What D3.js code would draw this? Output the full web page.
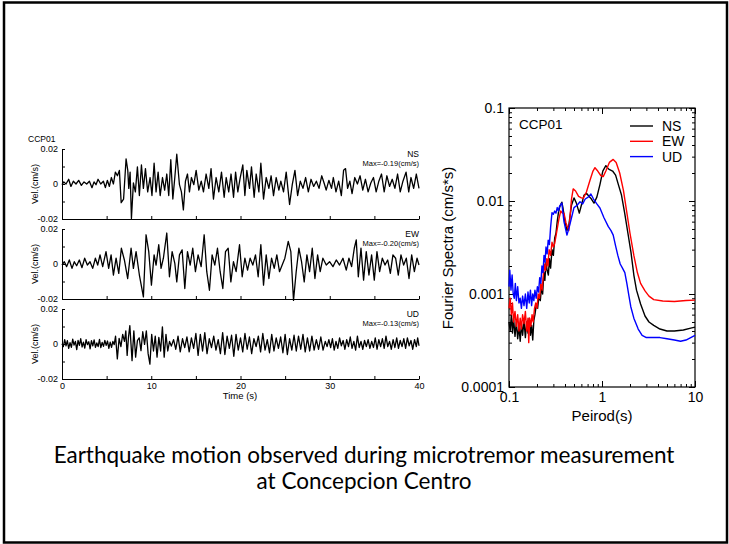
<!DOCTYPE html>
<html>
<head>
<meta charset="utf-8">
<script src="https://cdn.jsdelivr.net/npm/d3@7"></script>
<style>
  body { margin: 0; background: #fff; }
  svg text { font-family: "Liberation Sans", Arial, sans-serif; }
</style>
</head>
<body>
<svg id="chart" width="729" height="544"></svg>
<script>
// ---- data ----
var components = ['NS', 'EW', 'UD'];
var maxLabels = ['Max=-0.19(cm/s)', 'Max=-0.20(cm/s)', 'Max=-0.13(cm/s)'];
var timeTicks = [0, 5, 10, 15, 20, 25, 30, 35, 40];
var timeLabels = [0, 10, 20, 30, 40];
var velTicks = [-0.02, -0.01, 0, 0.01, 0.02];
var velLabels = [-0.02, 0, 0.02];
var periodLabels = [0.1, 1, 10];
var specLabels = [0.0001, 0.001, 0.01, 0.1];

// velocity waveforms, [time (s), vel (cm/s)] at turning points
var nsWave = [[0,-0.0004],[0.2,0.0012],[0.45,0],[0.75,0.0027],[1.0,-0.0014],[1.27,0.0016],[1.57,0],[1.87,0.0021],[2.17,-0.0008],[2.47,0.0012],[2.77,0],[3.07,0.0016],[3.36,-0.0021],[3.59,0.0012],[3.81,-0.0004],[4.04,0.0027],[4.34,0],[4.64,0.0016],[4.86,-0.0021],[5.08,0.0021],[5.31,-0.0014],[5.53,0.0037],[5.76,0],[5.98,0.0068],[6.21,0.0047],[6.43,0.0078],[6.63,-0.0107],[6.9,-0.0086],[7.18,0.0144],[7.37,0.0078],[7.48,-0.0025],[7.63,0.0068],[7.78,-0.0197],[8.0,0.0006],[8.22,-0.0045],[8.45,0.0098],[8.67,-0.0066],[8.9,0.0109],[9.12,-0.0025],[9.35,0.0088],[9.6,-0.0045],[9.87,0.0037],[10.08,-0.0066],[10.32,0.0119],[10.54,-0.0045],[10.77,0.0068],[11.0,-0.0066],[11.26,0.0037],[11.5,-0.0035],[11.74,0.0057],[11.96,-0.0066],[12.19,0.0139],[12.42,-0.0086],[12.64,0.0037],[12.86,0.017],[13.16,-0.0004],[13.38,-0.0045],[13.6,-0.0148],[13.83,0.0016],[14.06,0.0057],[14.28,-0.0045],[14.5,0.0037],[14.77,-0.0004],[15.03,0.0078],[15.33,-0.0035],[15.6,0.0016],[15.85,-0.0045],[16.15,0.0057],[16.45,-0.0025],[16.7,0.0088],[16.97,-0.0086],[17.27,0.0037],[17.57,-0.0045],[17.87,0.0068],[18.17,-0.0076],[18.4,0.0037],[18.68,-0.0045],[18.94,0.0057],[19.22,-0.0076],[19.45,0.0068],[19.7,-0.0045],[19.97,0.0037],[20.26,0.0109],[20.49,-0.0066],[20.71,0.0078],[21.01,-0.0025],[21.23,0.0098],[21.53,-0.0076],[21.76,0.0057],[22.06,-0.0045],[22.28,0.0119],[22.58,-0.0086],[22.88,0.0037],[23.18,-0.0025],[23.43,0.0047],[23.7,-0.0066],[24.0,0.0037],[24.3,-0.0035],[24.52,0.0016],[24.82,-0.0045],[25.12,0.0068],[25.5,-0.0117],[25.8,-0.0004],[26.1,0.0078],[26.4,-0.0066],[26.7,0.0016],[27.0,-0.0025],[27.3,0.0037],[27.6,-0.0045],[27.9,0.0027],[28.2,-0.0014],[28.5,0.0016],[28.8,-0.0025],[29.1,0.0047],[29.4,0],[29.6,-0.0035],[29.9,0.0021],[30.2,-0.0025],[30.4,0.0037],[30.7,-0.0045],[31.0,0.0016],[31.3,-0.0066],[31.55,0.0078],[31.77,0.0088],[32.0,-0.0025],[32.25,0.0016],[32.5,-0.0055],[32.8,0.0037],[33.1,0],[33.4,0.0047],[33.7,-0.0035],[34.0,0.0027],[34.3,-0.0045],[34.6,0.0006],[34.9,0.0037],[35.2,-0.0045],[35.5,0.0016],[35.8,0.0057],[36.1,-0.0045],[36.4,0.0047],[36.7,-0.0014],[37.0,0.0027],[37.3,-0.0025],[37.6,0.0057],[37.9,-0.0045],[38.2,0.0016],[38.55,0.0068],[38.85,-0.0045],[39.1,0.0037],[39.4,-0.0025],[39.7,0.0057],[40,-0.0025]];
var ewWave = [[0,-0.0006],[0.26,0.0013],[0.52,-0.0015],[0.82,0.0023],[1.12,-0.0025],[1.38,0.0013],[1.64,-0.001],[1.94,0.0023],[2.24,-0.0021],[2.54,0.0033],[2.84,-0.0006],[3.14,0.0013],[3.44,-0.0025],[3.74,0.0033],[4.0,-0.0006],[4.26,0.0052],[4.56,-0.0015],[4.93,0.0071],[5.23,-0.0025],[5.5,0.0052],[5.76,-0.0063],[6.06,0.0033],[6.36,-0.0054],[6.65,0.009],[6.99,0.0023],[7.36,-0.0083],[7.74,0.009],[8.0,-0.0025],[8.3,0.0071],[8.67,-0.0063],[9.12,-0.0188],[9.42,0.0167],[9.72,0.0071],[10.02,-0.0121],[10.32,0.0052],[10.54,-0.0006],[10.84,0.011],[11.1,-0.0025],[11.36,0.0033],[11.74,0.0177],[12.04,-0.0073],[12.34,0.0071],[12.64,0.0004],[12.86,-0.0102],[13.16,0.0052],[13.46,0.0081],[13.76,-0.014],[14.06,0.0071],[14.36,-0.0006],[14.65,0.009],[14.95,-0.0044],[15.25,0.0052],[15.59,-0.0015],[15.93,0.0167],[16.22,-0.0044],[16.52,-0.015],[16.82,0.0052],[17.12,-0.0006],[17.42,0.009],[17.72,-0.0044],[18.02,-0.014],[18.32,0.0071],[18.62,0.009],[18.92,-0.0102],[19.21,0.0013],[19.51,-0.0044],[19.89,0.011],[20.19,-0.0073],[20.49,0.0033],[20.79,-0.0035],[21.08,0.0033],[21.38,-0.0006],[21.68,0.0052],[21.98,-0.0073],[22.28,0.011],[22.58,-0.0121],[22.88,0.0052],[23.18,-0.0083],[23.48,0.0033],[23.78,-0.0025],[24.07,0.0052],[24.37,-0.0044],[24.67,-0.0006],[24.97,0.0033],[25.35,0.0129],[25.64,0.0071],[25.94,-0.0208],[26.24,-0.0044],[26.54,0.009],[26.84,0.0013],[27.14,-0.0102],[27.44,0.0052],[27.74,-0.0044],[28.04,0.009],[28.34,-0.0083],[28.64,0.0052],[28.93,-0.0044],[29.23,0.0033],[29.61,-0.0006],[29.98,0.0013],[30.36,-0.0015],[30.73,0.0023],[31.1,-0.0006],[31.48,0.0033],[31.85,-0.0035],[32.15,0.0033],[32.45,-0.0015],[32.75,0.009],[32.97,0.0138],[33.2,-0.0073],[33.5,0.009],[33.79,-0.0092],[34.09,0.0071],[34.39,-0.0063],[34.69,0.0052],[34.99,-0.0092],[35.29,0.0071],[35.59,-0.0044],[35.89,0.0033],[36.19,-0.0006],[36.49,0.0023],[36.79,-0.0054],[37.08,0.0052],[37.38,0.0033],[37.68,-0.0063],[37.98,0.0052],[38.28,-0.0006],[38.58,0.0033],[38.88,-0.0083],[39.18,0.0052],[39.48,-0.0044],[39.78,0.0033],[40,-0.0006]];
var udWave = [[0,0.0002],[0.15,-0.0015],[0.3,0.0025],[0.45,-0.001],[0.6,0.0019],[0.75,-0.0025],[0.9,0.0008],[1.05,-0.0019],[1.2,0.0028],[1.35,-0.0006],[1.5,0.0015],[1.65,-0.0032],[1.8,0.0021],[1.95,-0.0008],[2.1,0.003],[2.25,-0.0017],[2.4,0.0011],[2.55,-0.0023],[2.7,0.0025],[2.85,-0.0004],[3.0,0.0013],[3.15,-0.0028],[3.3,0.0019],[3.45,-0.0011],[3.6,0.0023],[3.75,-0.0019],[3.9,0.0006],[4.05,-0.0015],[4.2,0.0026],[4.35,-0.0021],[4.5,0.0009],[4.65,-0.0013],[4.8,0.0021],[4.95,-0.0008],[5.1,0.0017],[5.25,-0.0025],[5.4,0.0011],[5.55,-0.0019],[5.7,0.0015],[5.85,-0.0004],[6.0,0.0045],[6.2,-0.0085],[6.4,0.0032],[6.6,-0.0015],[6.8,0.0055],[7.0,0.0015],[7.15,0.0075],[7.3,-0.0065],[7.45,0.004],[7.6,0.0105],[7.85,-0.0095],[8.05,0.0075],[8.25,-0.0075],[8.45,0.002],[8.65,0.0035],[8.85,-0.0038],[9.05,0.007],[9.25,-0.0002],[9.45,0.0075],[9.65,-0.0055],[9.85,-0.0115],[10.05,0.0055],[10.25,-0.004],[10.45,0.0045],[10.65,-0.0075],[10.85,0.0038],[11.05,-0.004],[11.25,0.0098],[11.45,-0.0075],[11.65,0.0055],[11.85,-0.004],[12.05,0.0015],[12.25,-0.0012],[12.5,0.0025],[12.75,-0.003],[13.0,0.0045],[13.25,-0.0045],[13.5,0.003],[13.75,-0.002],[14.0,0.004],[14.25,-0.0045],[14.5,0.0035],[14.75,-0.0025],[15.0,0.006],[15.25,-0.0065],[15.5,0.0055],[15.75,-0.004],[16.0,0.0065],[16.25,-0.0055],[16.5,0.003],[16.75,-0.002],[17.0,0.0045],[17.25,-0.0035],[17.5,0.0025],[17.75,-0.0055],[18.0,0.0065],[18.25,-0.006],[18.5,0.0045],[18.75,-0.0025],[19.0,0.005],[19.25,-0.007],[19.5,0.0055],[19.75,-0.0035],[20.0,0.0035],[20.25,-0.0045],[20.5,0.006],[20.75,-0.003],[21.0,0.004],[21.25,-0.0055],[21.5,0.003],[21.75,-0.0015],[22.0,0.0045],[22.25,-0.0045],[22.5,0.006],[22.75,-0.0035],[23.0,0.0025],[23.25,-0.005],[23.5,0.0055],[23.75,-0.004],[24.0,0.0035],[24.25,-0.0025],[24.5,0.004],[24.75,-0.005],[25.0,0.0055],[25.25,-0.006],[25.5,0.003],[25.75,-0.0035],[26.0,0.005],[26.25,-0.004],[26.5,0.0045],[26.75,-0.003],[27.0,0.0055],[27.25,-0.0045],[27.5,0.0035],[27.75,-0.004],[28.0,0.0045],[28.25,-0.0035],[28.5,0.0025],[28.75,-0.003],[29.0,0.004],[29.25,-0.0035],[29.5,0.0015],[29.7,-0.0015],[29.9,0.0025],[30.1,-0.002],[30.3,0.003],[30.5,-0.0035],[30.7,0.0015],[30.9,-0.0025],[31.1,0.0035],[31.3,-0.001],[31.5,0.002],[31.7,-0.003],[31.9,0.0025],[32.1,-0.0015],[32.3,0.004],[32.5,-0.0025],[32.7,0.0015],[32.9,-0.0035],[33.1,0.0045],[33.3,-0.002],[33.5,0.0015],[33.7,-0.003],[33.9,0.002],[34.1,-0.0015],[34.3,0.0025],[34.5,-0.0025],[34.7,0.0015],[34.9,-0.002],[35.1,0.0035],[35.3,-0.003],[35.5,0.0025],[35.7,-0.0015],[35.9,0.003],[36.1,-0.0025],[36.3,0.0045],[36.5,-0.0015],[36.7,0.0015],[36.9,-0.003],[37.1,0.0025],[37.3,-0.002],[37.5,0.0035],[37.7,-0.0025],[37.9,0.002],[38.1,-0.0015],[38.3,0.003],[38.5,-0.0025],[38.7,0.0035],[38.9,-0.001],[39.1,0.002],[39.3,-0.003],[39.5,0.0025],[39.7,-0.0015],[39.85,0.0035],[40,-0.001]];

// Fourier spectra, [period (s), amplitude (cm/s*s)]
var nsSpec = [[0.1,0.0005],[0.103,0.0004],[0.106,0.0006],[0.109,0.00038],[0.112,0.00055],[0.116,0.00035],[0.12,0.0005],[0.124,0.00033],[0.128,0.00045],[0.132,0.00031],[0.136,0.00048],[0.14,0.00036],[0.145,0.00052],[0.15,0.00034],[0.155,0.0005],[0.16,0.00038],[0.165,0.00055],[0.17,0.00036],[0.175,0.00046],[0.18,0.00032],[0.185,0.00052],[0.19,0.0006],[0.197,0.00078],[0.203,0.0007],[0.21,0.00095],[0.217,0.00085],[0.224,0.0012],[0.23,0.001],[0.237,0.0017],[0.243,0.0014],[0.25,0.0022],[0.257,0.0018],[0.265,0.0016],[0.272,0.0024],[0.28,0.0019],[0.29,0.003],[0.3,0.0026],[0.31,0.004],[0.32,0.0045],[0.33,0.006],[0.34,0.0075],[0.35,0.0085],[0.36,0.0092],[0.37,0.0097],[0.38,0.0085],[0.4,0.006],[0.42,0.0048],[0.44,0.0055],[0.47,0.009],[0.5,0.0108],[0.53,0.0095],[0.57,0.0074],[0.6,0.009],[0.64,0.0115],[0.68,0.0121],[0.72,0.0113],[0.77,0.0105],[0.82,0.0095],[0.88,0.011],[0.95,0.015],[1.02,0.021],[1.1,0.024],[1.18,0.022],[1.3,0.021],[1.4,0.019],[1.5,0.015],[1.62,0.0116],[1.75,0.0075],[1.9,0.0045],[2.05,0.0028],[2.2,0.0016],[2.35,0.0011],[2.6,0.00078],[2.9,0.00058],[3.2,0.0005],[3.6,0.00046],[4.2,0.00042],[5,0.0004],[6,0.0004],[7.5,0.00041],[9,0.00043],[10,0.00044]];
var ewSpec = [[0.1,0.0007],[0.103,0.0009],[0.106,0.0006],[0.109,0.0008],[0.112,0.0005],[0.116,0.00065],[0.12,0.00045],[0.124,0.0006],[0.128,0.0004],[0.132,0.00055],[0.136,0.00042],[0.14,0.0006],[0.145,0.00048],[0.15,0.00065],[0.155,0.0004],[0.16,0.00055],[0.163,0.0003],[0.167,0.00055],[0.172,0.00045],[0.177,0.0006],[0.182,0.0005],[0.188,0.0007],[0.194,0.0008],[0.2,0.0007],[0.206,0.001],[0.213,0.0009],[0.22,0.0013],[0.227,0.0011],[0.234,0.0016],[0.24,0.0021],[0.247,0.0018],[0.255,0.0024],[0.262,0.002],[0.27,0.003],[0.28,0.0026],[0.29,0.0036],[0.3,0.0032],[0.31,0.0035],[0.32,0.0042],[0.33,0.005],[0.345,0.0065],[0.36,0.0078],[0.375,0.0074],[0.39,0.0074],[0.41,0.0058],[0.44,0.0048],[0.47,0.0105],[0.49,0.0135],[0.52,0.0128],[0.56,0.0112],[0.6,0.0108],[0.63,0.0107],[0.68,0.0125],[0.74,0.0165],[0.8,0.021],[0.84,0.0228],[0.9,0.021],[0.97,0.0188],[1.03,0.0183],[1.1,0.021],[1.2,0.026],[1.32,0.028],[1.42,0.026],[1.55,0.02],[1.7,0.013],[1.85,0.0075],[2.0,0.0045],[2.2,0.0026],[2.4,0.0017],[2.6,0.0013],[2.9,0.00108],[3.2,0.00095],[3.6,0.00087],[4.5,0.00084],[6,0.00083],[8,0.00085],[10,0.00086]];
var udSpec = [[0.1,0.0012],[0.102,0.0018],[0.105,0.0011],[0.108,0.0016],[0.111,0.001],[0.114,0.0009],[0.117,0.0013],[0.12,0.00085],[0.124,0.0012],[0.128,0.0008],[0.132,0.0009],[0.136,0.0007],[0.14,0.00095],[0.145,0.00075],[0.15,0.001],[0.155,0.0007],[0.16,0.00105],[0.165,0.0008],[0.17,0.0011],[0.175,0.00075],[0.18,0.001],[0.185,0.00085],[0.19,0.0011],[0.196,0.0009],[0.202,0.0012],[0.208,0.00105],[0.214,0.0015],[0.22,0.0013],[0.226,0.002],[0.232,0.0017],[0.238,0.0026],[0.244,0.0022],[0.25,0.0032],[0.257,0.0027],[0.264,0.0038],[0.272,0.0034],[0.28,0.0052],[0.29,0.0075],[0.3,0.0072],[0.31,0.0078],[0.32,0.0074],[0.33,0.0085],[0.34,0.0078],[0.35,0.0088],[0.37,0.0095],[0.39,0.006],[0.42,0.0043],[0.45,0.0055],[0.47,0.0066],[0.5,0.0085],[0.54,0.009],[0.58,0.0098],[0.62,0.0093],[0.66,0.0105],[0.71,0.011],[0.76,0.0119],[0.81,0.0105],[0.88,0.0093],[0.95,0.0084],[1.05,0.0066],[1.17,0.0053],[1.25,0.0048],[1.32,0.0043],[1.4,0.0033],[1.48,0.0026],[1.57,0.0021],[1.66,0.0019],[1.76,0.0017],[1.85,0.0013],[1.95,0.00095],[2.04,0.00073],[2.2,0.00055],[2.45,0.00042],[2.7,0.00036],[3.0,0.00034],[3.5,0.00034],[4.2,0.00034],[5,0.00033],[6,0.00032],[7,0.00031],[8,0.00032],[9,0.00034],[10,0.00036]];

var waves = [nsWave, ewWave, udWave];
var spectra = [nsSpec, ewSpec, udSpec];
var specColors = ['#000000', '#ff0000', '#0000ff'];

var svg = d3.select('#chart');

// slide frame
svg.append('rect')
    .attr('x', 4).attr('y', 2.5).attr('width', 723).attr('height', 540)
    .attr('fill', 'none').attr('stroke', '#000').attr('stroke-width', 2.5);

// ---- left: three velocity traces ----
var xt = d3.scaleLinear().domain([0, 40]).range([62, 419]);
var panelTop = 149, panelH = 70, panelStep = 80;

svg.append('text').attr('x', 28).attr('y', 142)
    .attr('font-size', 8.5).text('CCP01');

components.forEach(function (name, i) {
    var top = panelTop + i * panelStep;
    var yv = d3.scaleLinear().domain([-0.02, 0.02]).range([top + panelH, top]);
    var g = svg.append('g');

    g.append('text').attr('x', 419).attr('y', top + 8).attr('text-anchor', 'end')
        .attr('font-size', 8.5).text(name);
    g.append('text').attr('x', 419).attr('y', top + 17).attr('text-anchor', 'end')
        .attr('font-size', 7.5).text(maxLabels[i]);

    g.append('g')
        .attr('transform', 'translate(62,0)')
        .call(d3.axisLeft(yv).tickValues(velTicks).tickSize(-3).tickSizeOuter(0).tickPadding(4)
            .tickFormat(function (d) { return velLabels.indexOf(d) >= 0 ? (d === 0 ? '0' : d.toFixed(2)) : ''; }))
        .call(function (a) { a.selectAll('text').attr('font-size', 9).attr('font-family', 'Liberation Sans'); });

    g.append('g')
        .attr('transform', 'translate(0,' + (top + panelH) + ')')
        .call(d3.axisBottom(xt).tickValues(timeTicks).tickSize(-3).tickSizeOuter(0).tickPadding(4)
            .tickFormat(function (d) { return i === 2 && timeLabels.indexOf(d) >= 0 ? d : ''; }))
        .call(function (a) { a.selectAll('text').attr('font-size', 9).attr('font-family', 'Liberation Sans'); });

    g.append('text')
        .attr('transform', 'translate(38,' + (top + panelH / 2) + ') rotate(-90)')
        .attr('text-anchor', 'middle').attr('font-size', 9).text('Vel.(cm/s)');

    g.append('path')
        .datum(waves[i])
        .attr('fill', 'none').attr('stroke', '#000').attr('stroke-width', 1.3)
        .attr('stroke-linejoin', 'round')
        .attr('d', d3.line().x(function (d) { return xt(d[0]); }).y(function (d) { return yv(d[1]); }));
});

svg.append('text').attr('x', 240).attr('y', 399).attr('text-anchor', 'middle')
    .attr('font-size', 9.5).text('Time (s)');

// ---- right: Fourier spectra ----
var xs = d3.scaleLog().domain([0.1, 10]).range([509, 695]);
var ys = d3.scaleLog().domain([0.0001, 0.1]).range([387, 108]);
var sp = svg.append('g');

sp.append('rect').attr('x', 509).attr('y', 108).attr('width', 186).attr('height', 279)
    .attr('fill', 'none').attr('stroke', '#000').attr('stroke-width', 1.2);

function logAxis(axis, scale, major, labels) {
    return function (a) {
        a.call(axis(scale).tickValues(scale.ticks()).tickSize(-3).tickSizeOuter(0).tickFormat(''));
        a.select('.domain').remove();
        var m = a.append('g').call(axis(scale).tickValues(major).tickSize(-6).tickSizeOuter(0)
            .tickPadding(labels ? 5 : 0).tickFormat(labels ? function (d) { return String(d); } : ''));
        m.select('.domain').remove();
        m.selectAll('text').attr('font-size', 14).attr('font-family', 'Liberation Sans');
    };
}
sp.append('g').attr('transform', 'translate(0,387)').call(logAxis(d3.axisBottom, xs, periodLabels, true));
sp.append('g').attr('transform', 'translate(0,108)').call(logAxis(d3.axisTop, xs, periodLabels, false));
sp.append('g').attr('transform', 'translate(509,0)').call(logAxis(d3.axisLeft, ys, specLabels, true));
sp.append('g').attr('transform', 'translate(695,0)').call(logAxis(d3.axisRight, ys, specLabels, false));

var line = d3.line().x(function (d) { return xs(d[0]); }).y(function (d) { return ys(d[1]); });
spectra.forEach(function (s, i) {
    sp.append('path').datum(s)
        .attr('fill', 'none').attr('stroke', specColors[i]).attr('stroke-width', 1.4)
        .attr('stroke-linejoin', 'round').attr('d', line);
});

sp.append('text').attr('x', 519).attr('y', 129).attr('font-size', 13.5).text('CCP01');
components.forEach(function (name, i) {
    var y = 126 + i * 15.3;
    sp.append('line').attr('x1', 630).attr('x2', 653).attr('y1', y).attr('y2', y)
        .attr('stroke', specColors[i]).attr('stroke-width', 1.4);
    sp.append('text').attr('x', 662).attr('y', y + 5).attr('font-size', 14).text(name);
});

sp.append('text')
    .attr('transform', 'translate(453,248) rotate(-90)')
    .attr('text-anchor', 'middle').attr('font-size', 15).text('Fourier Spectra (cm/s*s)');
sp.append('text').attr('x', 602).attr('y', 421).attr('text-anchor', 'middle')
    .attr('font-size', 15).text('Peirod(s)');

// ---- slide caption ----
var caption = ['Earthquake motion observed during microtremor measurement', 'at Concepcion Centro'];
caption.forEach(function (t, i) {
    svg.append('text').attr('x', 364).attr('y', 463 + i * 26).attr('text-anchor', 'middle')
        .style('font-family', 'Lato, "Open Sans", sans-serif').attr('font-size', 22.5)
        .text(t);
});
</script>
</body>
</html>
